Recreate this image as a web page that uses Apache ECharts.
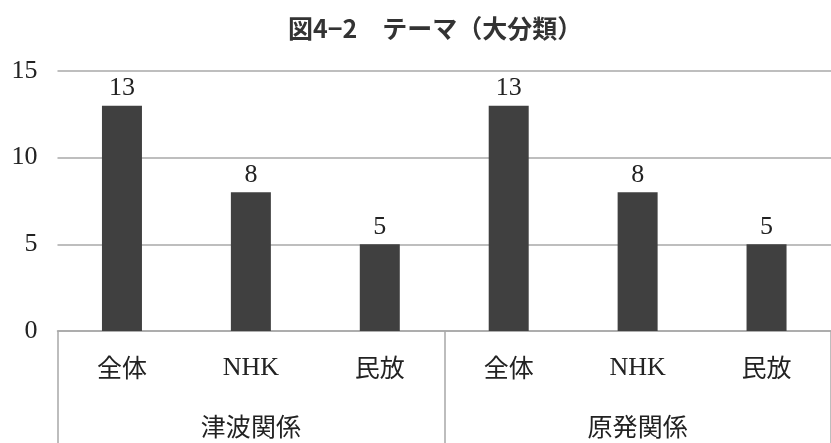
<!DOCTYPE html>
<html>
<head>
<meta charset="utf-8">
<script src="https://cdn.jsdelivr.net/npm/echarts@6/dist/echarts.min.js"></script>
<style>
html,body{margin:0;padding:0;background:#fff;}
#chart{width:831px;height:443px;}
</style>
</head>
<body>
<div id="chart"></div>
<script>
const titleText = '図4−2　テーマ（大分類）';
const categories = ['全体', 'NHK', '民放', '全体', 'NHK', '民放'];
const groups = ['津波関係', '原発関係'];
const values = [13, 8, 5, 13, 8, 5];
const yMin = 0, yMax = 15, yInterval = 5;

const serif = "'Liberation Serif', 'Noto Sans CJK JP', serif";
const cjk = "'Noto Sans CJK JP', sans-serif";
const lineColor = '#a8a8a8';
const textColor = '#222';

const richStyles = {
  lat: {fontFamily: serif, fontSize: 26, color: textColor},
  cjk: {fontFamily: cjk, fontSize: 25, color: textColor}
};
function mixFmt(v) {
  return /^[\x00-\x7f]+$/.test(v) ? '{lat|' + v + '}' : '{cjk|' + v + '}';
}

const chart = echarts.init(document.getElementById('chart'), null, {renderer: 'canvas'});
chart.setOption({
  animation: false,
  title: {
    text: titleText,
    left: 283,
    top: 11,
    textStyle: {fontFamily: cjk, fontWeight: 'bold', fontSize: 25, color: '#333'}
  },
  grid: {left: 57.5, top: 71, width: 785, height: 260, containLabel: false},
  xAxis: [
    {
      type: 'category',
      data: categories,
      position: 'bottom',
      axisLine: {show: true, lineStyle: {color: lineColor, width: 1.5}},
      axisTick: {show: false},
      axisLabel: {margin: 24, interval: 0, formatter: mixFmt, rich: richStyles}
    },
    {
      type: 'category',
      data: groups,
      position: 'bottom',
      axisLine: {show: false},
      axisTick: {show: true, length: 120, interval: 0, lineStyle: {color: lineColor, width: 1.5}},
      axisLabel: {margin: 83, interval: 0, formatter: mixFmt, rich: richStyles}
    }
  ],
  yAxis: {
    type: 'value',
    min: yMin, max: yMax, interval: yInterval,
    axisLine: {show: false},
    axisTick: {show: false},
    axisLabel: {margin: 20, fontSize: 26, fontFamily: serif, color: textColor},
    splitLine: {show: true, lineStyle: {color: lineColor, width: 1.5}}
  },
  series: [{
    type: 'bar',
    xAxisIndex: 0,
    data: values,
    barWidth: 40,
    itemStyle: {color: '#404040'},
    label: {show: true, position: 'top', distance: 4, fontSize: 26, fontFamily: serif, color: textColor}
  }]
});
</script>
</body>
</html>
